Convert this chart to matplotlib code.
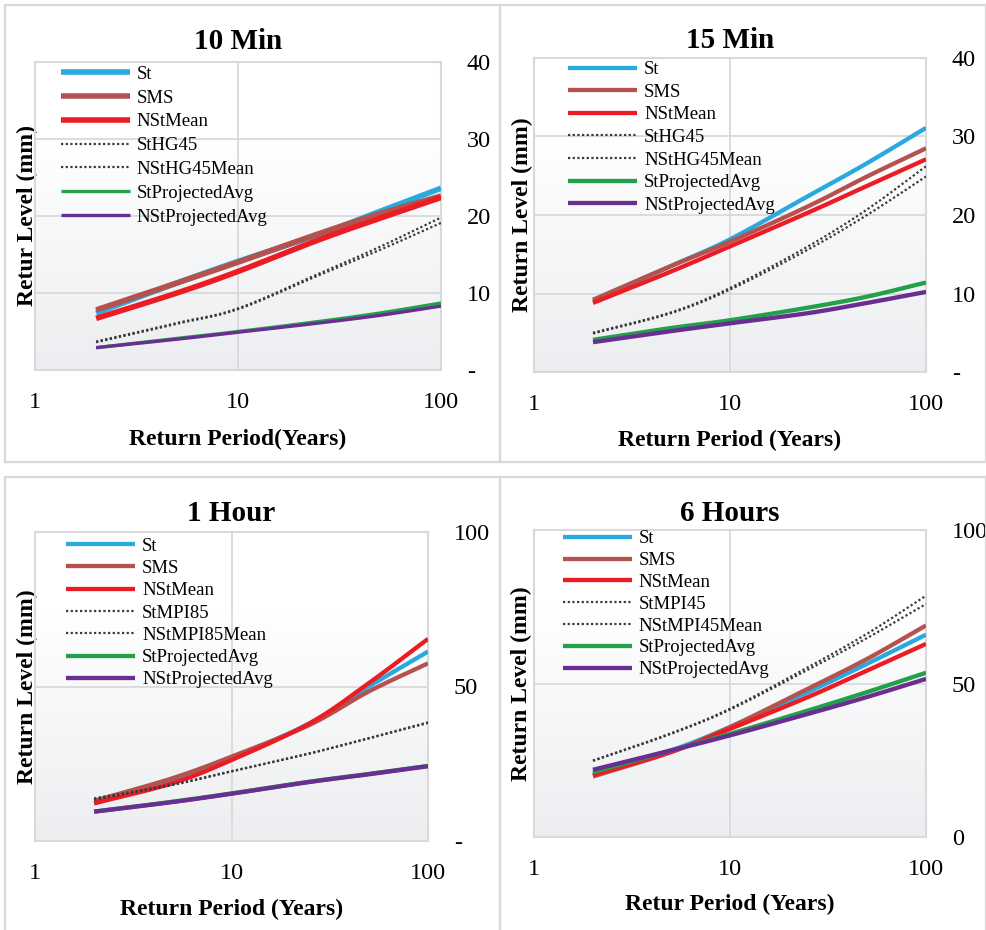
import matplotlib

matplotlib.use("Agg")
import matplotlib.pyplot as plt  # noqa: E402
import numpy as np  # noqa: E402
from matplotlib.patches import Rectangle  # noqa: E402

plt.rcParams["font.family"] = ["Liberation Serif", "DejaVu Serif"]

# return periods (years)
periods = [2, 5, 10, 25, 50, 100]

# 10 Min
min10_st = [7.4, 11.3, 14.1, 17.6, 20.6, 23.6]
min10_sms = [7.8, 11.3, 14.0, 17.7, 20.3, 22.6]
min10_nst_mean = [6.7, 10.0, 12.8, 16.9, 19.7, 22.4]
min10_st_hg45 = [3.7, 6.1, 8.0, 12.5, 16.0, 19.8]
min10_nst_hg45_mean = [3.6, 6.0, 7.9, 12.3, 15.6, 19.1]
min10_st_proj = [2.9, 4.1, 5.0, 6.3, 7.4, 8.7]
min10_nst_proj = [2.9, 4.0, 4.9, 6.1, 7.1, 8.3]

# 15 Min
min15_st = [9.0, 13.5, 16.9, 22.4, 26.6, 31.1]
min15_sms = [9.2, 13.5, 16.6, 21.1, 24.9, 28.5]
min15_nst_mean = [8.8, 12.8, 16.0, 20.3, 23.7, 27.1]
min15_st_hg45 = [5.0, 7.6, 10.7, 16.0, 20.7, 26.2]
min15_nst_hg45_mean = [4.9, 7.5, 10.5, 15.6, 20.0, 24.9]
min15_st_proj = [4.1, 5.6, 6.6, 8.2, 9.6, 11.4]
min15_nst_proj = [3.8, 5.2, 6.2, 7.5, 8.8, 10.2]

# 1 Hour
hr1_st = [12.2, 19.2, 26.8, 38.1, 50.0, 61.3]
hr1_sms = [13.0, 20.3, 27.3, 37.6, 48.4, 57.5]
hr1_nst_mean = [12.2, 18.7, 26.2, 38.1, 51.1, 65.4]
hr1_st_mpi85 = [13.8, 18.3, 22.6, 28.4, 33.3, 38.4]
hr1_nst_mpi85_mean = [13.3, 18.1, 22.5, 28.3, 33.2, 38.2]
hr1_st_proj = [9.5, 12.7, 15.4, 19.2, 21.7, 24.3]
hr1_nst_proj = [9.5, 12.6, 15.3, 19.1, 21.6, 24.2]

# 6 Hours
hr6_st = [20.4, 28.2, 35.8, 47.2, 56.4, 65.9]
hr6_sms = [19.7, 27.7, 35.8, 48.3, 58.0, 68.9]
hr6_nst_mean = [20.1, 27.7, 35.2, 45.6, 54.2, 62.9]
hr6_st_mpi45 = [24.9, 33.8, 41.8, 55.3, 66.2, 78.6]
hr6_nst_mpi45_mean = [24.8, 33.6, 41.5, 54.5, 64.8, 75.9]
hr6_st_proj = [21.1, 28.2, 33.6, 41.2, 47.2, 53.5]
hr6_nst_proj = [21.9, 28.2, 33.1, 40.1, 45.6, 51.5]

x_ticks = [1, 10, 100]
x_tick_labels = ["1", "10", "100"]
y_ticks_40 = [0, 10, 20, 30, 40]
y_labels_40 = ["-", "10", "20", "30", "40"]
y_ticks_100 = [0, 50, 100]
y_labels_1h = ["-", "50", "100"]
y_labels_6h = ["0", "50", "100"]

C_ST = "#29A9E0"
C_SMS = "#B5524E"
C_NST = "#EC1C24"
C_DOT = "#3A3A3A"
C_GRN = "#23A14A"
C_PUR = "#6A2D91"
GRID = "#D9D9D9"

W, H = 987, 930
fig = plt.figure(figsize=(W / 100, H / 100), dpi=100)


def px_axes(l, t, r, b):
    return fig.add_axes([l / W, 1 - b / H, (r - l) / W, (b - t) / H])


def smoothed(xs, ys, n=24):
    # Excel-style smoothed line: Catmull-Rom through the points, in log-x space
    P = np.column_stack([np.log10(xs), ys]).astype(float)
    P = np.vstack([2 * P[0] - P[1], P, 2 * P[-1] - P[-2]])
    t = np.linspace(0, 1, n, endpoint=False)[:, None]
    out = []
    for i in range(1, len(P) - 2):
        p0, p1, p2, p3 = P[i - 1], P[i], P[i + 1], P[i + 2]
        out.append(0.5 * (2 * p1 + (p2 - p0) * t + (2 * p0 - 5 * p1 + 4 * p2 - p3) * t ** 2
                          + (3 * p1 - p0 - 3 * p2 + p3) * t ** 3))
    out.append(P[-2][None])
    pts = np.vstack(out)
    return 10 ** pts[:, 0], pts[:, 1]


def gradient(ax):
    top = np.array([1.0, 1.0, 1.0])
    bot = np.array([0.925, 0.932, 0.942])
    f = np.linspace(0, 1, 256)[:, None]
    f = np.clip((f - 0.25) / 0.75, 0, 1)  # 0 in the upper part, 1 at the bottom
    img = (top + f[..., None] * (bot - top)).reshape(256, 1, 3)
    ax.imshow(img, extent=[0, 1, 0, 1], origin="upper", transform=ax.transAxes,
              aspect="auto", zorder=0, interpolation="bilinear")


def panel(ax, title, xlabel, ylabel, series, ymax, yticks, ylabels,
          leg_xy, leg_sp, thick=3.0, thin=3.0, title_y=1.062, xlab_y=-0.222, ylab_x=-0.028):
    gradient(ax)
    for label, vals, kind in series:
        sx, sy = smoothed(periods, vals)
        if kind == "dot":
            ax.plot(sx, sy, color=C_DOT, lw=1.6, linestyle=(0, (1, 1.1)),
                    label=label, zorder=3)
        else:
            lw = thick if kind in (C_ST, C_SMS, C_NST) else thin
            ax.plot(sx, sy, color=kind, lw=lw, label=label,
                    solid_capstyle="butt", zorder=3)
    ax.set_xscale("log")
    ax.set_xlim(1, 100)
    ax.set_ylim(0, ymax)
    ax.set_xticks(x_ticks)
    ax.set_xticklabels(x_tick_labels)
    ax.xaxis.set_minor_locator(matplotlib.ticker.NullLocator())
    ax.set_yticks(yticks)
    ax.set_yticklabels(ylabels)
    ax.yaxis.tick_right()
    ax.tick_params(axis="both", length=0, labelsize=17.5)
    ax.tick_params(axis="x", pad=16)
    ax.tick_params(axis="y", pad=18.5)
    ax.grid(True, color=GRID, lw=1.3, zorder=1)
    ax.set_axisbelow(True)
    for s in ax.spines.values():
        s.set_color(GRID)
        s.set_linewidth(1.5)
    ax.text(0.5, title_y, title, transform=ax.transAxes, ha="center", va="center",
            fontsize=21, fontweight="bold")
    ax.set_xlabel(xlabel, fontsize=17, fontweight="bold")
    ax.xaxis.set_label_coords(0.5, xlab_y)
    ax.xaxis.label.set_va("center")
    ax.set_ylabel(ylabel, fontsize=17, fontweight="bold")
    ax.yaxis.set_label_position("left")
    ax.yaxis.set_label_coords(ylab_x, 0.5)
    ax.yaxis.label.set_va("center")
    ax.legend(loc="upper left", bbox_to_anchor=leg_xy, frameon=False, fontsize=13.5,
              borderpad=0, borderaxespad=0, handlelength=3.7, handletextpad=0.35,
              labelspacing=leg_sp)


ax1 = px_axes(35, 62, 441, 370)
panel(ax1, "10 Min", "Return Period(Years)", "Retur Level (mm)",
      [("St", min10_st, C_ST), ("SMS", min10_sms, C_SMS), ("NStMean", min10_nst_mean, C_NST),
       ("StHG45", min10_st_hg45, "dot"), ("NStHG45Mean", min10_nst_hg45_mean, "dot"),
       ("StProjectedAvg", min10_st_proj, C_GRN), ("NStProjectedAvg", min10_nst_proj, C_PUR)],
      40, y_ticks_40, y_labels_40, (0.064, 0.988), 0.355, thick=4.0, thin=2.4,
      title_y=1.065, xlab_y=-0.224, ylab_x=-0.018)

ax2 = px_axes(534, 58, 926, 372)
panel(ax2, "15 Min", "Return Period (Years)", "Return Level (mm)",
      [("St", min15_st, C_ST), ("SMS", min15_sms, C_SMS), ("NStMean", min15_nst_mean, C_NST),
       ("StHG45", min15_st_hg45, "dot"), ("NStHG45Mean", min15_nst_hg45_mean, "dot"),
       ("StProjectedAvg", min15_st_proj, C_GRN), ("NStProjectedAvg", min15_nst_proj, C_PUR)],
      40, y_ticks_40, y_labels_40, (0.087, 0.99), 0.29, thick=3.1, thin=3.1,
      title_y=1.057, xlab_y=-0.217, ylab_x=-0.03)

ax3 = px_axes(35, 532, 428, 841)
panel(ax3, "1 Hour", "Return Period (Years)", "Return Level (mm)",
      [("St", hr1_st, C_ST), ("SMS", hr1_sms, C_SMS), ("NStMean", hr1_nst_mean, C_NST),
       ("StMPI85", hr1_st_mpi85, "dot"), ("NStMPI85Mean", hr1_nst_mpi85_mean, "dot"),
       ("StProjectedAvg", hr1_st_proj, C_GRN), ("NStProjectedAvg", hr1_nst_proj, C_PUR)],
      100, y_ticks_100, y_labels_1h, (0.079, 0.982), 0.275, thick=3.1, thin=3.1,
      title_y=1.061, xlab_y=-0.223, ylab_x=-0.018)

ax4 = px_axes(534, 530, 926, 837)
panel(ax4, "6 Hours", "Retur Period (Years)", "Return Level (mm)",
      [("St", hr6_st, C_ST), ("SMS", hr6_sms, C_SMS), ("NStMean", hr6_nst_mean, C_NST),
       ("StMPI45", hr6_st_mpi45, "dot"), ("NStMPI45Mean", hr6_nst_mpi45_mean, "dot"),
       ("StProjectedAvg", hr6_st_proj, C_GRN), ("NStProjectedAvg", hr6_nst_proj, C_PUR)],
      100, y_ticks_100, y_labels_6h, (0.074, 0.999), 0.25, thick=3.1, thin=3.1,
      title_y=1.055, xlab_y=-0.221, ylab_x=-0.033)

# light gray frames around each chart
for l, t, r, b in [(5, 5, 500, 462), (500, 5, 986, 462), (5, 477, 500, 935), (500, 477, 986, 935)]:
    fig.add_artist(Rectangle((l / W, 1 - b / H), (r - l) / W, (b - t) / H,
                             transform=fig.transFigure, fill=False, ec=GRID, lw=1.6))

fig.savefig("out.png", dpi=100)
